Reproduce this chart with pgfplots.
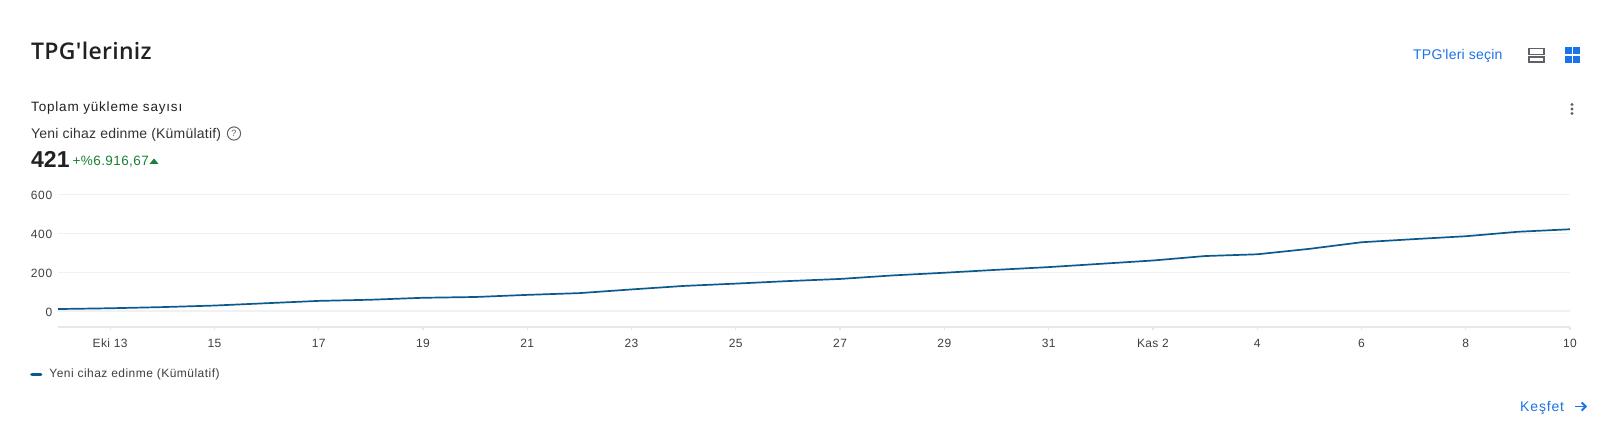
\documentclass[border=0pt]{standalone}
\usepackage{pgfplots}
\pgfplotsset{compat=1.18}
\usetikzlibrary{arrows.meta}
\usepackage{fontspec}
\setmainfont{Liberation Sans}
\newfontfamily\titlefont[LetterSpace=1.3]{Open Sans Semibold}
\newfontfamily\spaced[LetterSpace=3]{Liberation Sans}
\newfontfamily\spacedk[LetterSpace=6]{Liberation Sans}
\newfontfamily\spacedb[LetterSpace=6]{Liberation Sans}
\newfontfamily\slight[LetterSpace=1.5]{Liberation Sans}
\newfontfamily\spacedl[LetterSpace=4]{Liberation Sans}
\definecolor{ink}{HTML}{202124}
\definecolor{mid}{HTML}{3C4043}
\definecolor{gblue}{HTML}{1A73E8}
\definecolor{gicon}{HTML}{5F6368}
\definecolor{ggreen}{HTML}{188038}
\definecolor{lineblue}{HTML}{0B5A8E}
\definecolor{gridc}{HTML}{F1F1F3}
\definecolor{axisc}{HTML}{E6E6EC}
\newcommand{\fs}[1]{\fontsize{#1pt}{#1pt}\selectfont}
\pgfplotstableread{
x y
0 10
1 14
2 20
3 28
4 40
5 52
6 58
7 68
8 72
9 83
10 92
11 111
12 129
13 141
14 154
15 165
16 183
17 197
18 212
19 226
20 243
21 260
22 283
23 292
24 320
25 354
26 370
27 385
28 408
29 421
}\datatable
\begin{document}
\begin{tikzpicture}[x=1pt,y=1pt]
\path[use as bounding box,fill=white] (0,0) rectangle (1618,433);
\begin{axis}[
  at={(58pt,105.9pt)},anchor=south west,
  scale only axis,width=1512pt,height=132.6pt,
  xmin=0,xmax=29,ymin=-83,ymax=600,
  axis x line*=bottom,axis y line=none,
  axis line style={color=axisc,line width=1.5pt,-},
  xtick={1,3,5,7,9,11,13,15,17,19,21,23,25,27,29},
  xticklabels={Eki 13,15,17,19,21,23,25,27,29,31,Kas 2,4,6,8,10},
  major tick length=3pt,
  tick style={color=axisc,line width=1.2pt},
  tick align=outside,
  xticklabel style={font=\spaced\fs{12},color=mid,anchor=base,yshift=-17pt},
  clip=false,
  legend style={at={(0,-37pt)},anchor=north west,xshift=-28pt,yshift=-3pt,draw=none,fill=none,font=\spacedl\fs{12},text=mid,inner sep=0pt,row sep=0pt,nodes={inner xsep=7pt}},
  legend image code/.code={\draw[lineblue,line width=3.2pt,line cap=round] (0pt,0pt) -- (9pt,0pt);},
]
\addplot[gridc,line width=1.3pt,forget plot] coordinates {(0,0) (29,0)};
\addplot[gridc,line width=1.3pt,forget plot] coordinates {(0,200) (29,200)};
\addplot[gridc,line width=1.3pt,forget plot] coordinates {(0,400) (29,400)};
\addplot[gridc,line width=1.3pt,forget plot] coordinates {(0,600) (29,600)};
\addplot[lineblue,line width=1.7pt,line join=round] table[x=x,y=y] {\datatable};
\addlegendentry{Yeni cihaz edinme (Kümülatif)}
\end{axis}
% y tick labels
\foreach \v/\py in {600/195.5,400/234.4,200/273.2,0/312}{
  \node[anchor=east,font=\spacedk\fs{12},text=mid,inner sep=0pt] at (52.5,433-\py) {\v};
}
\node[anchor=base west,font=\titlefont\fs{23},text=ink,inner sep=0pt] at (31,433-59.5) {TPG'leriniz};
\node[anchor=base west,font=\spacedb\fs{13.5},text=ink,inner sep=0pt] at (31,433-112) {Toplam yükleme sayısı};
\node[anchor=base west,font=\slight\fs{14},text=mid!80!black,inner sep=0pt] at (31,433-138.5) {Yeni cihaz edinme (Kümülatif)};
\node[anchor=base west,font=\bfseries\fs{23},text=ink,inner sep=0pt] at (31,433-167.5) {421};
\node[anchor=base west,font=\spaced\fs{13.5},text=ggreen,inner sep=0pt] at (72.5,433-166) {+\%6.916,67};
\fill[ggreen] (149.5,433-164) -- (154,433-158.5) -- (158.5,433-164) -- cycle;
% help icon
\draw[gicon,line width=1pt] (234,433-133.5) circle (6.6);
\node[font=\fs{9},text=gicon,inner sep=0pt] at (234,433-133.5) {?};
% top right
\node[anchor=base west,font=\slight\fs{14},text=gblue,inner sep=0pt] at (1413,433-60) {TPG'leri seçin};
\draw[gicon,line width=1.3pt] (1529,433-48.5) rectangle (1544,433-54.5);
\draw[gicon,line width=1.3pt] (1529,433-57) rectangle (1544,433-62);
\fill[gblue] (1564.5,433-47.5) rectangle (1571.5,433-54.5);
\fill[gblue] (1573,433-47.5) rectangle (1580,433-54.5);
\fill[gblue] (1564.5,433-56) rectangle (1571.5,433-63);
\fill[gblue] (1573,433-56) rectangle (1580,433-63);
\foreach \py in {104.5,109,113.5}{\fill[gicon] (1572,433-\py) circle (1.6);}
% explore
\node[anchor=base west,font=\spacedk\fs{14},text=gblue,inner sep=0pt] at (1520,433-412) {Keşfet};
\draw[gblue,line width=1.8pt,-{Straight Barb[length=4pt,width=8pt]}] (1575,433-406.5) -- (1587,433-406.5);
\end{tikzpicture}
\end{document}
